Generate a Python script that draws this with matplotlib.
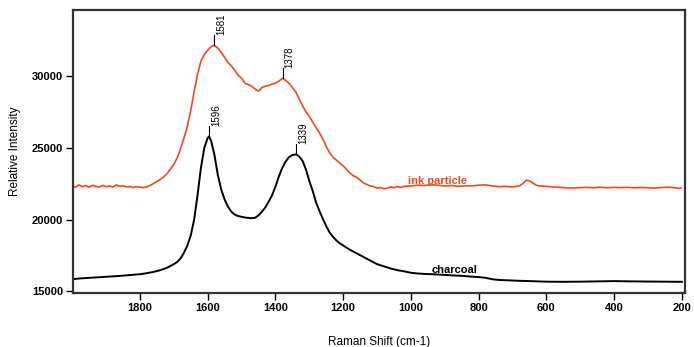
import matplotlib
matplotlib.use("Agg")
import matplotlib.pyplot as plt

plt.rcParams['font.family'] = ['Liberation Sans', 'DejaVu Sans']

# ink particle spectrum (Raman shift cm-1, intensity)
ink_x = [2000, 1990, 1980, 1970, 1960, 1950, 1940, 1930, 1920, 1910, 1900, 1890, 1880, 1870,
         1860, 1850, 1840, 1830, 1820, 1810, 1800, 1790, 1780, 1770, 1760, 1750, 1740, 1730,
         1720, 1710, 1700, 1690, 1680, 1670, 1660, 1650, 1640, 1630, 1620, 1610, 1600, 1590,
         1581, 1570, 1560, 1550, 1540, 1530, 1520, 1510, 1500, 1490, 1480, 1470, 1460, 1450,
         1440, 1430, 1420, 1410, 1400, 1390, 1378, 1370, 1360, 1350, 1340, 1330, 1320, 1310,
         1300, 1290, 1280, 1270, 1260, 1250, 1240, 1230, 1220, 1210, 1200, 1190, 1180, 1170,
         1160, 1150, 1140, 1130, 1120, 1110, 1100, 1090, 1080, 1070, 1060, 1050, 1040, 1030,
         1020, 1000, 980, 960, 940, 920, 900, 880, 860, 840, 820, 800, 780, 760, 740, 720,
         700, 680, 670, 660, 650, 640, 630, 620, 600, 580, 560, 540, 520, 500, 480, 460,
         440, 420, 400, 380, 360, 340, 320, 300, 280, 260, 240, 220, 210, 203]
ink_y = [22350, 22250, 22420, 22300, 22380, 22260, 22400, 22310, 22280, 22390, 22300, 22350, 22270, 22420,
         22330, 22360, 22290, 22310, 22240, 22300, 22260, 22230, 22280, 22380, 22520, 22650, 22800, 22980,
         23200, 23520, 23850, 24300, 24950, 25700, 26500, 27600, 28900, 30100, 31050, 31500, 31800, 32050,
         32150, 31950, 31650, 31300, 30950, 30700, 30400, 30050, 29850, 29500, 29400, 29300, 29100, 28950,
         29200, 29300, 29350, 29450, 29500, 29650, 29850, 29700, 29500, 29200, 28900, 28400, 27950, 27500,
         27200, 26800, 26400, 26050, 25600, 25100, 24650, 24350, 24150, 23950, 23750, 23500, 23250, 23050,
         22950, 22750, 22550, 22450, 22350, 22300, 22200, 22250, 22150, 22200, 22280, 22230, 22300, 22250,
         22320, 22350, 22400, 22380, 22420, 22400, 22350, 22380, 22320, 22360, 22350, 22400, 22420, 22350, 22300, 22320,
         22280, 22350, 22500, 22750, 22700, 22550, 22400, 22350, 22320, 22280, 22250, 22220, 22200, 22230, 22250, 22220,
         22260, 22220, 22250, 22230, 22250, 22220, 22240, 22230, 22200, 22240, 22260, 22230, 22180, 22200]

# charcoal spectrum
coal_x = [2000, 1980, 1960, 1940, 1920, 1900, 1880, 1860, 1840, 1820, 1800, 1780, 1760, 1740,
          1720, 1700, 1690, 1680, 1670, 1660, 1650, 1640, 1630, 1620, 1610, 1600, 1596, 1590,
          1580, 1570, 1560, 1550, 1540, 1530, 1520, 1510, 1500, 1490, 1480, 1470, 1460, 1450,
          1440, 1430, 1420, 1410, 1400, 1390, 1380, 1370, 1360, 1350, 1339, 1330, 1320, 1310,
          1300, 1290, 1280, 1270, 1260, 1250, 1240, 1230, 1220, 1210, 1200, 1180, 1160, 1140,
          1120, 1100, 1080, 1060, 1040, 1020, 1000, 980, 960, 940, 920, 900, 880, 860, 840,
          820, 800, 780, 760, 740, 720, 700, 680, 650, 600, 550, 500, 450, 400, 350, 300,
          250, 200]
coal_y = [15850, 15900, 15930, 15960, 15990, 16020, 16050, 16080, 16120, 16160, 16200, 16270, 16360, 16480,
          16650, 16900, 17050, 17300, 17700, 18200, 18900, 20000, 21700, 23600, 25000, 25700, 25800, 25500,
          24500, 23100, 22100, 21400, 20900, 20550, 20350, 20250, 20200, 20150, 20120, 20100, 20130, 20300,
          20550, 20850, 21250, 21700, 22300, 23000, 23600, 24050, 24350, 24500, 24550, 24400, 24100, 23500,
          22700, 22000, 21200, 20600, 20050, 19550, 19100, 18800, 18550, 18350, 18200, 17900, 17650, 17400,
          17150, 16900, 16750, 16600, 16480, 16400, 16300, 16250, 16220, 16200, 16180, 16150, 16120, 16100, 16070,
          16030, 16000, 15950, 15850, 15800, 15780, 15760, 15740, 15720, 15680, 15670, 15680, 15700, 15720, 15700, 15690,
          15680, 15670]

# labelled peaks: (position, intensity at peak)
ink_peaks = [1581, 1378]
ink_peak_y = [32150, 29850]
coal_peaks = [1596, 1339]
coal_peak_y = [25800, 24550]

x_ticks = [1800, 1600, 1400, 1200, 1000, 800, 600, 400, 200]
y_ticks = [15000, 20000, 25000, 30000]

red = '#f04a23'

fig = plt.figure(figsize=(6.94, 3.47), dpi=100)
ax = fig.add_axes([0.105, 0.156, 0.882, 0.815])

ax.plot(ink_x, ink_y, color=red, lw=1.2)
ax.plot(coal_x, coal_y, color='black', lw=1.4)

for px, py in zip(ink_peaks + coal_peaks, ink_peak_y + coal_peak_y):
    ax.plot([px, px], [py, py + 700], color='black', lw=0.8)
    ax.text(px - 20, py + 700, str(px), rotation=90, fontsize=7,
            ha='center', va='bottom')

ax.text(1010, 22680, 'ink particle', color=red, fontsize=8, fontweight='bold',
        ha='left', va='center')
ax.text(940, 16520, 'charcoal', color='black', fontsize=8, fontweight='bold',
        ha='left', va='center')

ax.set_xlim(1998, 191)
ax.set_ylim(14900, 34600)
ax.set_xticks(x_ticks)
ax.set_yticks(y_ticks)
ax.tick_params(direction='out', length=5, width=1, labelsize=8, pad=2)
for lab in ax.get_xticklabels() + ax.get_yticklabels():
    lab.set_fontweight('bold')

for s in ax.spines.values():
    s.set_color('#333333')
    s.set_linewidth(1.6)

ax.set_xlabel('Raman Shift (cm-1)', fontsize=8.5, labelpad=17)
ax.set_ylabel('Relative Intensity', fontsize=8.5, labelpad=8)

fig.savefig('out.png', dpi=100)
